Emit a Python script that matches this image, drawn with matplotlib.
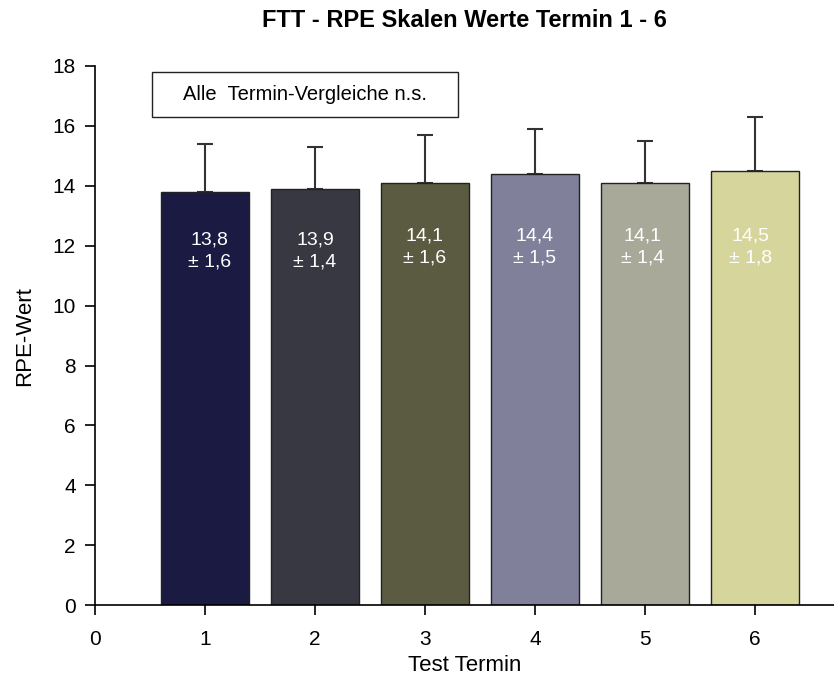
import matplotlib
matplotlib.use("Agg")
import matplotlib.pyplot as plt
from matplotlib.patches import Rectangle
import numpy as np

plt.rcParams['font.family'] = ['Liberation Sans', 'DejaVu Sans']

termine = [1, 2, 3, 4, 5, 6]
mittel = [13.8, 13.9, 14.1, 14.4, 14.1, 14.5]
sd = [1.6, 1.4, 1.6, 1.5, 1.4, 1.8]
labels = ["13,8\n± 1,6", "13,9\n± 1,4", "14,1\n± 1,6", "14,4\n± 1,5", "14,1\n± 1,4", "14,5\n± 1,8"]
farben = ["#1a1a42", "#383843", "#5b5b41", "#80809b", "#a9a99a", "#d6d59b"]

fig = plt.figure(figsize=(8.34, 6.8), dpi=100)
ax = fig.add_axes([0.114, 0.110, 0.886, 0.793])

ax.bar(termine, mittel, width=0.8, color=farben, edgecolor="#222222", linewidth=1.0, zorder=2)
ax.errorbar(termine, mittel, yerr=[np.zeros(len(sd)), sd], fmt="none",
            ecolor="#333333", elinewidth=1.5, capsize=6, capthick=1.5, zorder=1)

# Beschriftung in den Balken
text_y = [11.82, 11.82, 11.96, 11.96, 11.96, 11.96]
text_dx = [0.04, 0.0, 0.0, 0.0, -0.02, -0.04]
for x, dx, y, t in zip(termine, text_dx, text_y, labels):
    ax.text(x + dx, y, t, color="white", ha="center", va="center", fontsize=14, linespacing=1.4, zorder=3)

# Kasten oben links
ax.add_patch(Rectangle((0.077, 0.905), 0.414, 0.0835, transform=ax.transAxes,
                       facecolor="white", edgecolor="#222222", linewidth=1.0, clip_on=False, zorder=4))
ax.text(0.284, 0.947, "Alle  Termin-Vergleiche n.s.", transform=ax.transAxes,
        ha="center", va="center", fontsize=14.5, zorder=5)

ax.set_xlim(0, 6.72)
ax.set_ylim(0, 18)
ax.set_xticks(range(0, 7))
ax.set_yticks(range(0, 19, 2))
ax.tick_params(axis="x", direction="out", length=7, width=1.2, labelsize=15, pad=11)
ax.tick_params(axis="y", direction="out", length=7, width=1.2, labelsize=15, pad=7)
ax.spines["top"].set_visible(False)
ax.spines["right"].set_visible(False)
ax.spines["left"].set_linewidth(1.2)
ax.spines["bottom"].set_linewidth(1.2)
ax.set_xlabel("Test Termin", fontsize=16, labelpad=4)
ax.set_ylabel("RPE-Wert", fontsize=16, labelpad=12)
ax.set_title("FTT - RPE Skalen Werte Termin 1 - 6", fontsize=17, fontweight="bold", pad=28)

fig.savefig("out.png", dpi=100)
